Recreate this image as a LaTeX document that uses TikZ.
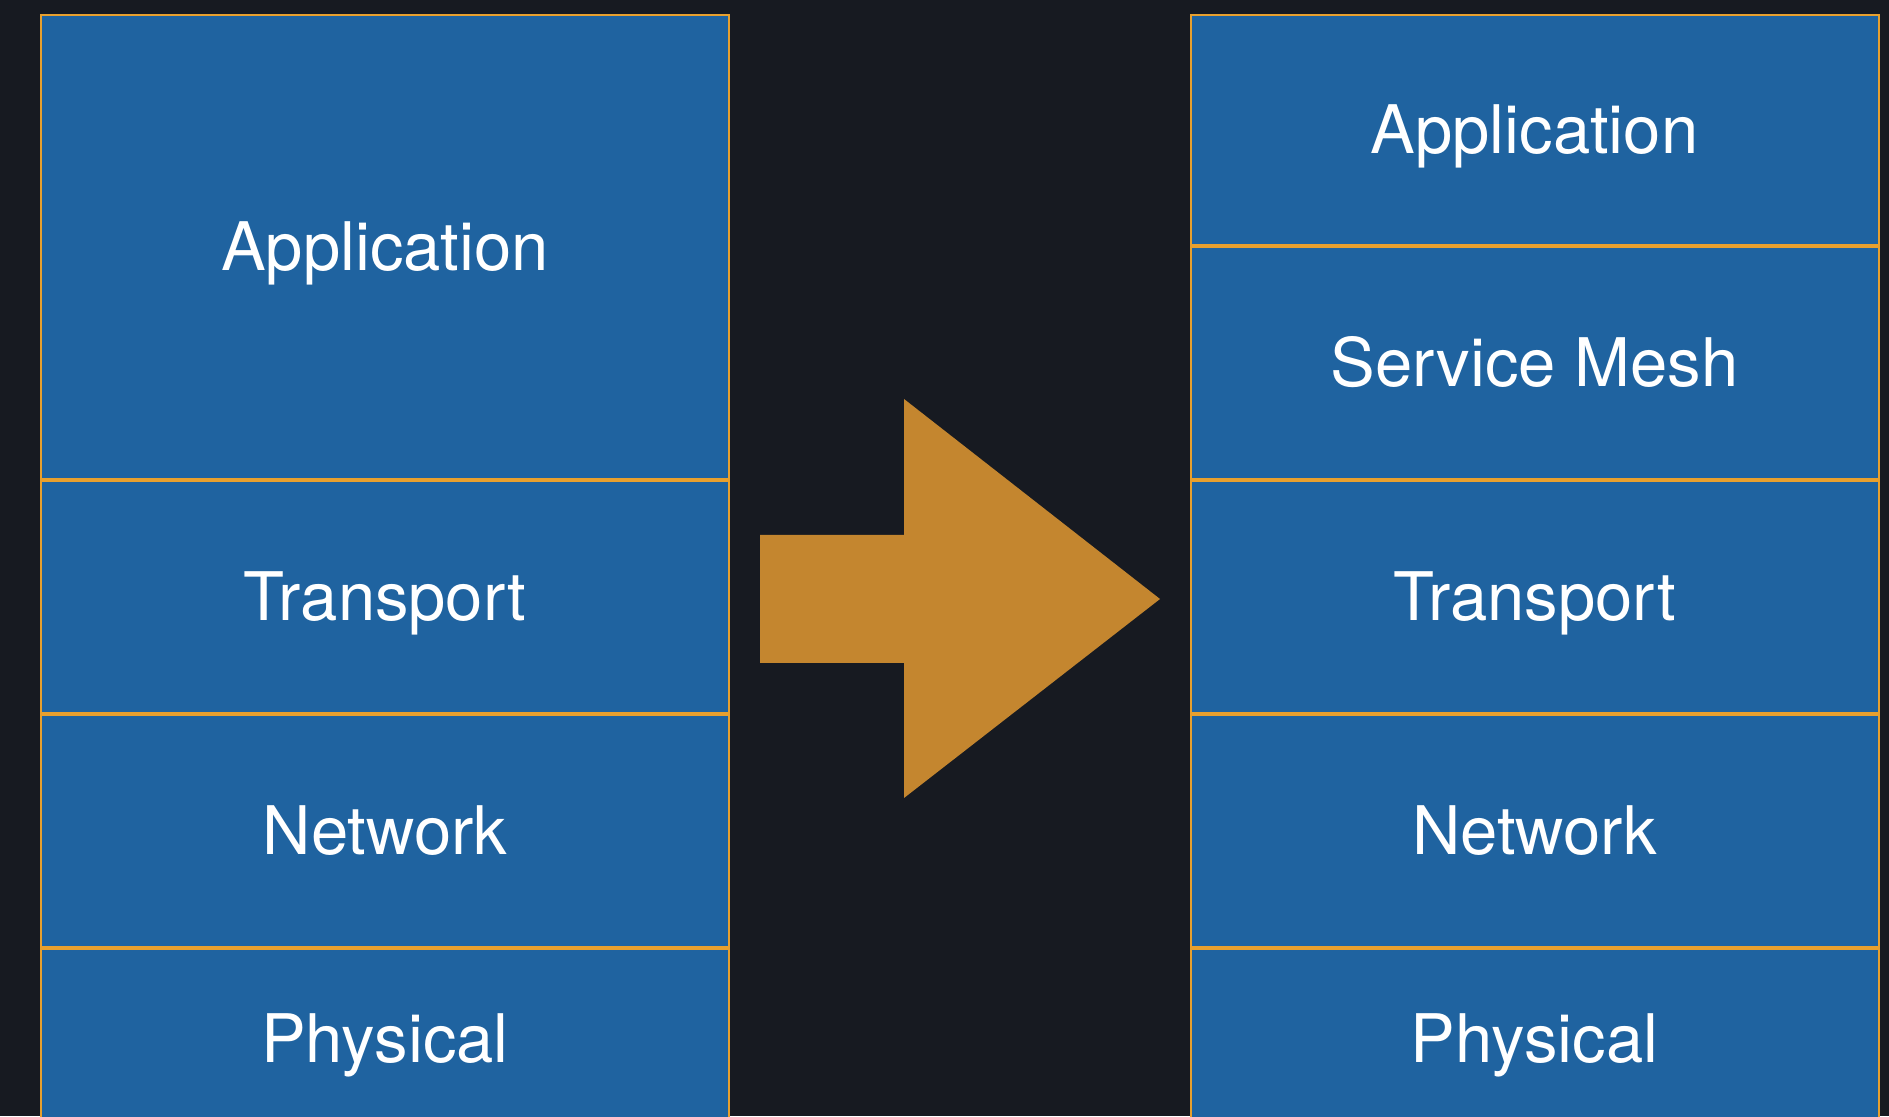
\documentclass[tikz,border=0pt]{standalone}
\usepackage{fontspec}
\setmainfont{TeX Gyre Heros}
\usetikzlibrary{positioning}
\definecolor{bgdark}{HTML}{171A21}
\definecolor{layerblue}{HTML}{1F63A0}
\definecolor{layeredge}{HTML}{E8A02E}
\definecolor{arrowgold}{HTML}{C4862F}
\begin{document}
\begin{tikzpicture}[x=1pt, y=1pt]
        \tikzstyle{layer} = [draw=layeredge, fill=layerblue, line width=2pt, outer sep=1pt, rectangle,
          minimum width=688pt, minimum height=232pt, inner sep=0pt,
          text=white, font=\fontsize{67}{70}\selectfont, text height=48pt, text depth=0pt]

        \path[use as bounding box, fill=bgdark] (0,0) rectangle (1889,1116);

        % old stack
        \node [layer, anchor=north, minimum height=464pt] (lapp) at (385,1102) {Application};
        \node [layer, below=0pt of lapp] (ltrans) {Transport};
        \node [layer, below=0pt of ltrans] (lnet) {Network};
        \node [layer, below=0pt of lnet, minimum height=180pt] (lphys) {Physical};

        % new stack
        \node [layer, anchor=north, minimum height=230pt] (rapp) at (1534.5,1102) {Application};
        \node [layer, below=0pt of rapp] (rmesh) {Service Mesh};
        \node [layer, below=0pt of rmesh] (rtrans) {Transport};
        \node [layer, below=0pt of rtrans] (rnet) {Network};
        \node [layer, below=0pt of rnet, minimum height=180pt] (rphys) {Physical};

        \fill [arrowgold] (760,581) -- (904,581) -- (904,717) -- (1160,517)
          -- (904,318) -- (904,453) -- (760,453) -- cycle;
    \end{tikzpicture}
\end{document}
